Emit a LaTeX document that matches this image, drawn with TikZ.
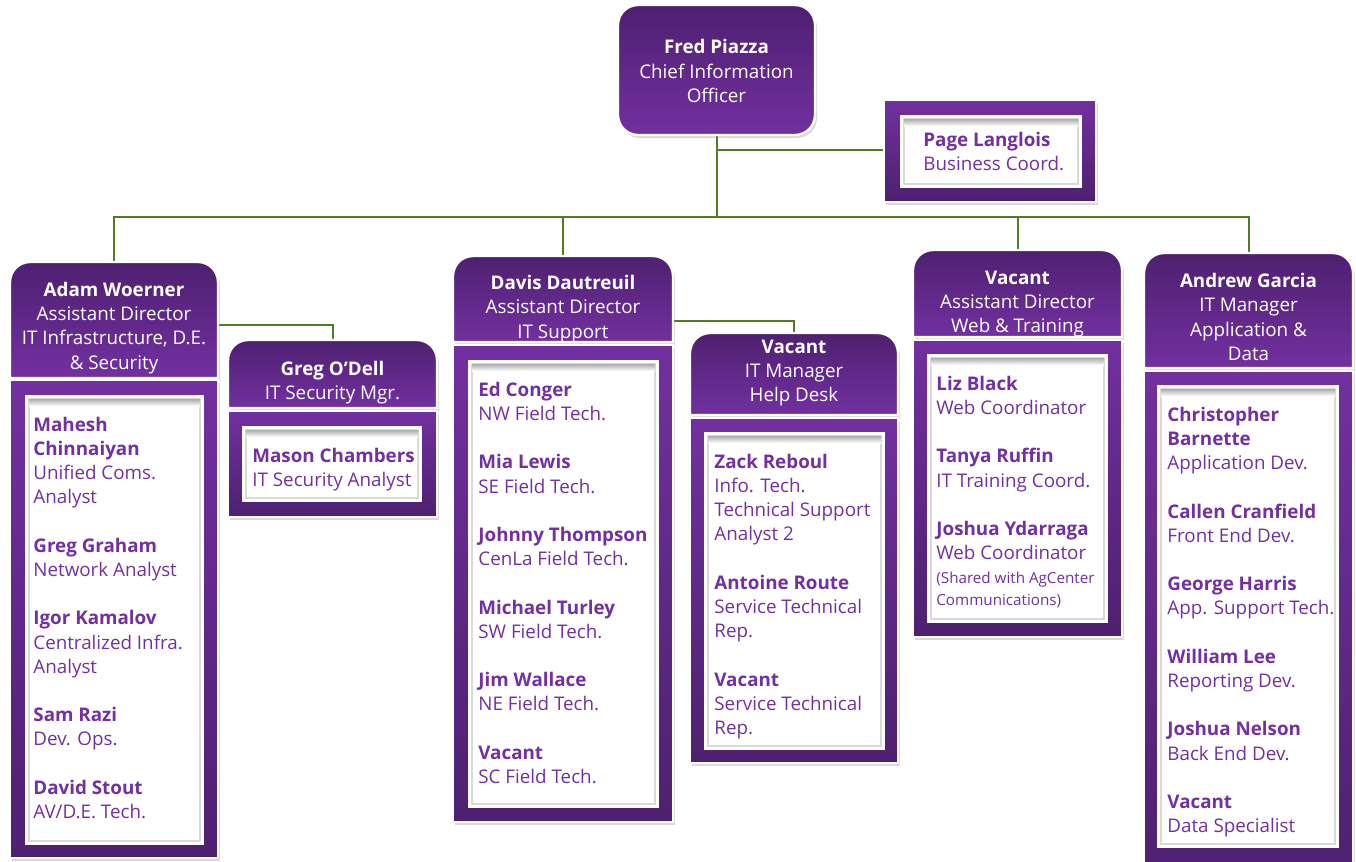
\documentclass[tikz,border=0pt]{standalone}
\usepackage{fontspec}
\setmainfont{Open Sans}
\usepackage{xcolor}
\usetikzlibrary{positioning, shadows, backgrounds}

\definecolor{purpdark}{RGB}{78,32,112}
\definecolor{purplight}{RGB}{114,48,160}
\definecolor{linkgreen}{RGB}{82,124,36}

\newcommand{\hdfont}{\fontsize{9.4pt}{12.1pt}\selectfont}
\newcommand{\smfont}{\fontsize{7.6pt}{10.5pt}\selectfont}

% header with rounded top corners (x1,y1,x2,y2 in px)
\newcommand{\headframe}[4]{%
  \shadedraw[headfill] (#1,#4) -- (#1,#2+20) arc[start angle=180, end angle=90, radius=10pt]
    -- (#3-20,#2) arc[start angle=90, end angle=0, radius=10pt] -- (#3,#4) -- cycle;}
% body below a header
\newcommand{\bodyframe}[4]{%
  \shadedraw[bodyfill] (#1,#2) rectangle (#3,#4);}
% white inset box
\newcommand{\innerframe}[4]{%
  \fill[white] (#1,#2) rectangle (#3,#4);
  \draw[gray!30, line width=0.8pt] (#1+4,#2+4) rectangle (#3-4,#4-4);
  \shade[top color=gray!65, bottom color=white] (#1+4,#2+4) rectangle (#3-4,#2+11);}

\tikzset{
  headfill/.style={top color=purpdark, bottom color=purplight, draw=white, line width=1.2pt,
    drop shadow={shadow xshift=1pt, shadow yshift=-1.5pt, opacity=0.3}},
  bodyfill/.style={top color=purplight, bottom color=purpdark, draw=white, line width=1.2pt,
    drop shadow={shadow xshift=1pt, shadow yshift=-1.5pt, opacity=0.3}},
  headtext/.style={text=white, align=center, inner sep=0pt},
  stafflist/.style={text=purplight, align=left, anchor=north west, inner sep=0pt},
  link/.style={draw=linkgreen, line width=1pt}
}

\begin{document}
\begin{tikzpicture}[x=0.5pt, y=-0.5pt, font=\hdfont]
  \useasboundingbox (0,0) rectangle (1356,862);

  % CIO
  \shadedraw[headfill, rounded corners=10pt] (618,5) rectangle (815,135);
  \node[headtext, minimum width=98.5pt, minimum height=65pt] (fred) at (716.5,71)
    {\textbf{Fred Piazza}\\Chief Information\\Officer};

  % business coordinator
  \shadedraw[bodyfill] (884,100) rectangle (1096,202);
  \innerframe{900}{115}{1082}{188}
  \node[stafflist] (page) at (923,129)
    {\strut\textbf{Page Langlois}\\Business Coord.};

  % infrastructure
  \headframe{10}{262}{218}{378}
  \bodyframe{10}{380}{218}{858}
  \innerframe{25}{395}{204}{845}
  \node[headtext, minimum width=104pt, minimum height=66pt] (adam) at (114,328)
    {\textbf{Adam Woerner}\\Assistant Director\\IT Infrastructure, D.E.\\\& Security};
  \node[stafflist] (adamstaff) at (33,414)
    {\strut\textbf{Mahesh}\\\textbf{Chinnaiyan}\\Unified Coms.\\Analyst\\[12.1pt]
     \textbf{Greg Graham}\\Network Analyst\\[12.1pt]
     \textbf{Igor Kamalov}\\Centralized Infra.\\Analyst\\[12.1pt]
     \textbf{Sam Razi}\\Dev. Ops.\\[12.1pt]
     \textbf{David Stout}\\AV/D.E. Tech.};

  % security
  \headframe{228}{340}{437}{408}
  \bodyframe{228}{411}{437}{517}
  \innerframe{242}{426}{422}{502}
  \node[headtext, minimum width=104.5pt, minimum height=43pt] (greg) at (332.5,383)
    {\textbf{Greg O’Dell}\\IT Security Mgr.};
  \node[stafflist] (gregstaff) at (252,445)
    {\strut\textbf{Mason Chambers}\\IT Security Analyst};

  % IT support
  \headframe{453}{256}{673}{342}
  \bodyframe{453}{345}{673}{822}
  \innerframe{468}{360}{659}{808}
  \node[headtext, minimum width=110pt, minimum height=53pt] (davis) at (563,309)
    {\textbf{Davis Dautreuil}\\Assistant Director\\IT Support};
  \node[stafflist] (davisstaff) at (478,379)
    {\strut\textbf{Ed Conger}\\NW Field Tech.\\[12.1pt]
     \textbf{Mia Lewis}\\SE Field Tech.\\[12.1pt]
     \textbf{Johnny Thompson}\\CenLa Field Tech.\\[12.1pt]
     \textbf{Michael Turley}\\SW Field Tech.\\[12.1pt]
     \textbf{Jim Wallace}\\NE Field Tech.\\[12.1pt]
     \textbf{Vacant}\\SC Field Tech.};

  % help desk
  \headframe{690}{333}{898}{415}
  \bodyframe{690}{418}{898}{763}
  \innerframe{704}{432}{885}{750}
  \node[headtext, minimum width=104pt, minimum height=40pt] (helpdesk) at (794,373)
    {\textbf{Vacant}\\IT Manager\\Help Desk};
  \node[stafflist] (helpstaff) at (714,451)
    {\strut\textbf{Zack Reboul}\\Info. Tech.\\Technical Support\\Analyst 2\\[12.1pt]
     \textbf{Antoine Route}\\Service Technical\\Rep.\\[12.1pt]
     \textbf{Vacant}\\Service Technical\\Rep.};

  % web & training
  \headframe{913}{250}{1122}{337}
  \bodyframe{913}{340}{1122}{637}
  \innerframe{927}{354}{1108}{623}
  \node[headtext, minimum width=104.5pt, minimum height=54pt] (webtrain) at (1017.5,304)
    {\textbf{Vacant}\\Assistant Director\\Web \& Training};
  \node[stafflist] (webstaff) at (936,373)
    {\strut\textbf{Liz Black}\\Web Coordinator\\[12.1pt]
     \textbf{Tanya Ruffin}\\IT Training Coord.\\[12.1pt]
     \textbf{Joshua Ydarraga}\\Web Coordinator\\
     {\smfont (Shared with AgCenter}\\[-1.5pt]{\smfont Communications)}};

  % applications & data
  \headframe{1144}{253}{1353}{368}
  \bodyframe{1144}{371}{1353}{880}
  \innerframe{1157}{385}{1339}{848}
  \node[headtext, minimum width=104.5pt, minimum height=64pt] (andrew) at (1248.5,317)
    {\textbf{Andrew Garcia}\\IT Manager\\Application \&\\Data};
  \node[stafflist] (andrewstaff) at (1167,404)
    {\strut\textbf{Christopher}\\\textbf{Barnette}\\Application Dev.\\[12.1pt]
     \textbf{Callen Cranfield}\\Front End Dev.\\[12.1pt]
     \textbf{George Harris}\\App. Support Tech.\\[12.1pt]
     \textbf{William Lee}\\Reporting Dev.\\[12.1pt]
     \textbf{Joshua Nelson}\\Back End Dev.\\[12.1pt]
     \textbf{Vacant}\\Data Specialist};

  % connectors
  \begin{scope}[on background layer]
    \coordinate (bus) at (716.5,217);
    \draw[link] (fred.south) -- (bus);
    \draw[link] (fred.south |- page.west) -- (page.west);
    \draw[link] (bus) -| (adam.north);
    \draw[link] (bus) -| (davis.north);
    \draw[link] (bus) -| (webtrain.north);
    \draw[link] (bus) -| (andrew.north);
    \draw[link] ([yshift=1.5pt]adam.east) -| (greg.north);
    \draw[link] ([yshift=-6pt]davis.east) -| (helpdesk.north);
  \end{scope}

\end{tikzpicture}
\end{document}
